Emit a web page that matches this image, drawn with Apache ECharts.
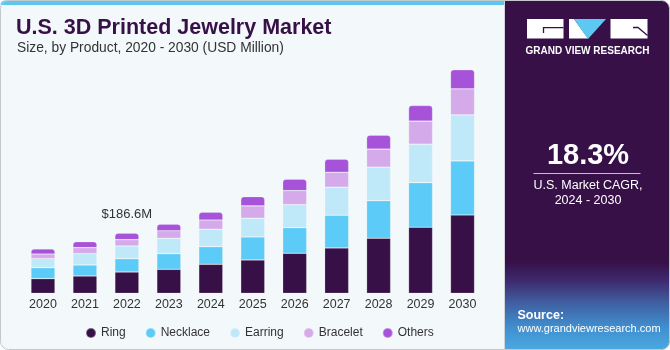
<!DOCTYPE html>
<html>
<head>
<meta charset="utf-8">
<script src="https://cdn.jsdelivr.net/npm/echarts@6/dist/echarts.min.js"></script>
<style>
html,body{margin:0;padding:0;background:#ffffff;}
#chart{width:670px;height:350px;}
</style>
</head>
<body>
<div id="chart"></div>
<script>
var years = ['2020','2021','2022','2023','2024','2025','2026','2027','2028','2029','2030'];
var ring = [45.4, 53.8, 66.2, 74.6, 90.2, 103.6, 124.4, 140.9, 171.1, 205.3, 243.5];
var necklace = [34.2, 34.2, 41.4, 48.5, 54.7, 71.5, 79.6, 101.7, 116.9, 138.7, 167.9];
var earring = [28.0, 35.1, 39.5, 47.9, 54.1, 58.2, 71.5, 87.1, 103.9, 119.4, 143.1];
var bracelet = [14.6, 18.7, 19.6, 23.6, 28.9, 38.3, 43.5, 46.7, 56.0, 71.5, 80.9];
var others = [15.6, 18.7, 19.9, 19.9, 23.9, 28.9, 35.5, 40.4, 43.5, 48.5, 59.1];
var seriesNames = ['Ring','Necklace','Earring','Bracelet','Others'];
var seriesColors = ['#371047','#5dcbf7','#bfe9f9','#d5aaeb','#a653d9'];
var labelIndex = 2;

var chart = echarts.init(document.getElementById('chart'), null, {renderer:'canvas'});
var allData = [ring, necklace, earring, bracelet, others];
var total = years.map(function(_, i){ return allData.reduce(function(s, a){ return s + a[i]; }, 0); });

var series = allData.map(function(arr, si){
  var isTop = si === allData.length - 1;
  return {
    name: seriesNames[si],
    type: 'bar',
    stack: 'total',
    barWidth: 24,
    itemStyle: {
      color: seriesColors[si],
      borderColor: 'rgba(255,255,255,0.35)',
      borderWidth: 0.6,
      borderRadius: isTop ? [3,3,0,0] : 0
    },
    emphasis: {disabled: true},
    data: arr.map(function(v, i){
      var d = {value: v};
      if (isTop && i === labelIndex) {
        d.label = {
          show: true,
          position: 'top',
          distance: 12,
          formatter: '$' + total[i].toFixed(1) + 'M',
          color: '#333333',
          fontSize: 13,
          fontFamily: 'Liberation Sans'
        };
      }
      return d;
    })
  };
});

var option = {
  backgroundColor: 'transparent',
  animation: false,
  grid: {left: 22, right: 186.5, top: 60, bottom: 56.7, containLabel: false},
  xAxis: {
    type: 'category',
    data: years,
    axisLine: {show: false},
    axisTick: {show: false},
    axisLabel: {color: '#333333', fontSize: 12.5, fontFamily: 'Liberation Sans', margin: 5}
  },
  yAxis: {
    type: 'value', min: 0, max: 725, show: false, splitLine: {show: false}
  },
  legend: {
    data: seriesNames,
    left: 80,
    top: 322,
    icon: 'circle',
    itemWidth: 10,
    itemHeight: 10,
    itemGap: 19,
    textStyle: {color: '#333333', fontSize: 12, fontFamily: 'Liberation Sans'}
  },
  graphic: [
    {type: 'rect', z: -100, shape: {x: 0.5, y: 0.5, width: 669, height: 349, r: 8}, style: {fill: '#f3f8fb'}},
    {type: 'rect', z: -99, shape: {x: 0.5, y: 0.5, width: 510, height: 4.5, r: [8,0,0,0]}, style: {fill: '#5ec5ee'}},
    {type: 'text', z: 10, x: 16, y: 28.5, style: {text: 'U.S. 3D Printed Jewelry Market', fill: '#371047', font: 'bold 21.5px "Liberation Sans"', verticalAlign: 'middle'}},
    {type: 'text', z: 10, x: 17, y: 48.5, style: {text: 'Size, by Product, 2020 - 2030 (USD Million)', fill: '#333333', font: '13.8px "Liberation Sans"', verticalAlign: 'middle'}},
    // right panel
    {type: 'rect', z: 50, shape: {x: 505, y: 0.5, width: 164.5, height: 349, r: [0,8,8,0]}, style: {fill: '#371048'}},
    {type: 'rect', z: 51, shape: {x: 505, y: 262, width: 164.5, height: 87.5, r: [0,0,8,0]}, style: {
      fill: new echarts.graphic.LinearGradient(0,0,0,1,[
        {offset: 0, color: 'rgba(55,16,72,1)'},
        {offset: 0.22, color: '#3f2a70'},
        {offset: 0.45, color: '#3f5c9e'},
        {offset: 0.75, color: '#418fcf'},
        {offset: 1, color: '#4aa8e2'}
      ])}},
    {type: 'line', z: 50, shape: {x1: 504.5, y1: 0, x2: 504.5, y2: 350}, style: {stroke: '#d0d4d8', lineWidth: 1}},
    // logo
    {type: 'rect', z: 60, shape: {x: 527, y: 19, width: 36.5, height: 19.5}, style: {fill: '#ffffff'}},
    {type: 'polyline', z: 61, shape: {points: [[563.5,27.7],[543.5,27.7],[543.5,33]]}, style: {stroke: '#371048', lineWidth: 1.3, fill: null}},
    {type: 'polygon', z: 60, shape: {points: [[569,19],[574,19],[588,38.5],[569,38.5]]}, style: {fill: '#ffffff'}},
    {type: 'polygon', z: 60, shape: {points: [[574,19],[606,19],[588,39]]}, style: {fill: '#5dc8f2'}},
    {type: 'rect', z: 60, shape: {x: 610.5, y: 19, width: 37, height: 19.5}, style: {fill: '#ffffff'}},
    {type: 'polyline', z: 61, shape: {points: [[633,27.5],[638,27.5],[647.5,35.5]]}, style: {stroke: '#371048', lineWidth: 1.3, fill: null}},
    {type: 'text', z: 60, x: 587.5, y: 51.7, style: {text: 'GRAND VIEW RESEARCH', fill: '#ffffff', font: 'bold 10px "Liberation Sans"', align: 'center', verticalAlign: 'middle'}},
    {type: 'text', z: 60, x: 588, y: 156, style: {text: '18.3%', fill: '#ffffff', font: 'bold 29px "Liberation Sans"', align: 'center', verticalAlign: 'middle'}},
    {type: 'line', z: 60, shape: {x1: 533.5, y1: 173.5, x2: 640.5, y2: 173.5}, style: {stroke: '#c9bcd6', lineWidth: 1}},
    {type: 'text', z: 60, x: 588, y: 185.5, style: {text: 'U.S. Market CAGR,', fill: '#ffffff', font: '12.5px "Liberation Sans"', align: 'center', verticalAlign: 'middle'}},
    {type: 'text', z: 60, x: 588, y: 200.5, style: {text: '2024 - 2030', fill: '#ffffff', font: '12.5px "Liberation Sans"', align: 'center', verticalAlign: 'middle'}},
    {type: 'text', z: 60, x: 517.5, y: 316, style: {text: 'Source:', fill: '#ffffff', font: 'bold 12.5px "Liberation Sans"', verticalAlign: 'middle'}},
    {type: 'text', z: 60, x: 517.5, y: 329, style: {text: 'www.grandviewresearch.com', fill: '#ffffff', font: '11px "Liberation Sans"', verticalAlign: 'middle'}},
    // card border
    {type: 'rect', z: 200, shape: {x: 0.5, y: 0.5, width: 669, height: 349, r: 8}, style: {fill: null, stroke: '#c3c8cc', lineWidth: 1}}
  ],
  series: series
};
chart.setOption(option);
</script>
</body>
</html>
